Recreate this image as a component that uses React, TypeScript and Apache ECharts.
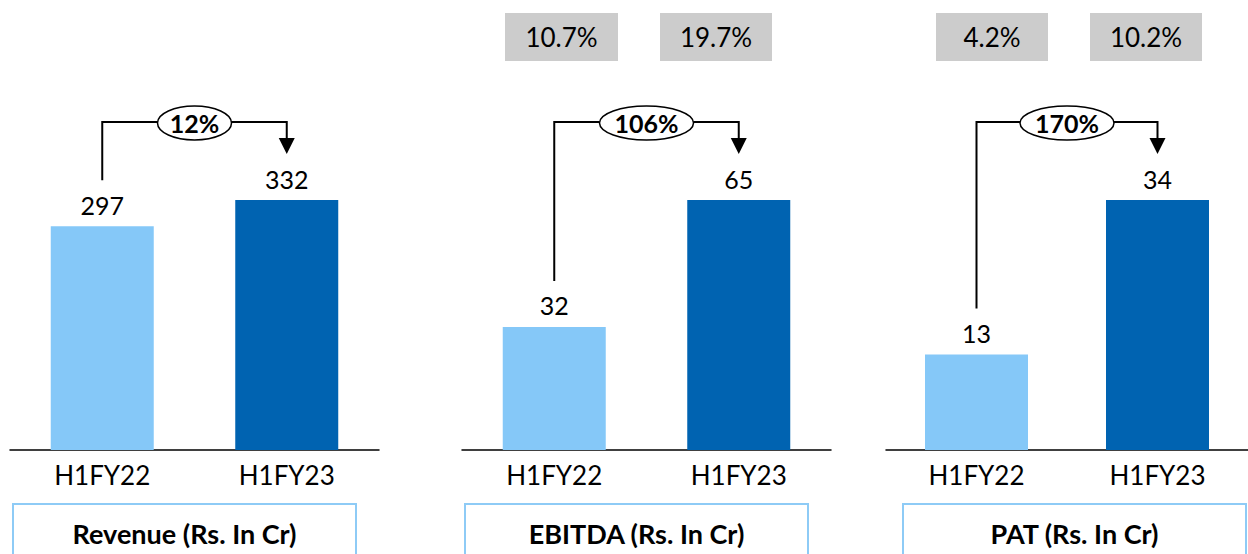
import React, { useEffect, useRef } from "react";
import * as echarts from "echarts";

// ---- data ----
const categories = ["H1FY22", "H1FY23"];
const revenue = [297, 332];
const ebitda = [32, 65];
const pat = [13, 34];
const ebitdaMargin = ["10.7%", "19.7%"];
const patMargin = ["4.2%", "10.2%"];
const growth = ["12%", "106%", "170%"];
const titles = ["Revenue (Rs. In Cr)", "EBITDA (Rs. In Cr)", "PAT (Rs. In Cr)"];

// ---- styles / layout ----
const FONT = "Lato, 'Open Sans', sans-serif";
const LIGHT = "#85C8F8";
const DARK = "#0063B1";
const panelsLayout = [
  { left: 10, box: [13, 356], marginRects: [] as number[][] },
  { left: 462, box: [465, 808], marginRects: [[505, 618], [660, 772]] },
  { left: 886, box: [903, 1246], marginRects: [[936, 1048], [1090, 1202]] },
];
const panelValues = [revenue, ebitda, pat];
const panelMargins: string[][] = [[], ebitdaMargin, patMargin];

export default function App() {
  const ref = useRef<HTMLDivElement>(null);
  useEffect(() => {
    document.body.style.margin = "0";
    const chart = echarts.init(ref.current!, null, { renderer: "svg" });
    const option: any = {
      animation: false,
      grid: panelsLayout.map((p) => ({ left: p.left, width: 369, top: 200, height: 250 })),
      xAxis: panelsLayout.map((_, i) => ({
        type: "category",
        gridIndex: i,
        data: categories,
        axisLine: { lineStyle: { color: "#000", width: 1.5 } },
        axisTick: { show: false },
        axisLabel: { fontSize: 26, color: "#000", fontFamily: FONT, margin: 12 },
      })),
      yAxis: panelsLayout.map((_, i) => ({
        type: "value",
        gridIndex: i,
        min: 0,
        max: Math.max(...panelValues[i]),
        show: false,
        splitLine: { show: false },
      })),
      series: panelsLayout.map((_, i) => ({
        type: "bar",
        xAxisIndex: i,
        yAxisIndex: i,
        barWidth: 103,
        data: panelValues[i].map((v, j) => ({
          value: v,
          itemStyle: { color: j === 0 ? LIGHT : DARK },
        })),
        label: {
          show: true,
          position: "top",
          distance: 9,
          fontSize: 25,
          color: "#000",
          fontFamily: FONT,
        },
      })),
    };
    chart.setOption(option);

    const graphics: any[] = [];
    panelsLayout.forEach((p, i) => {
      const vals = panelValues[i];
      const [x0, y0] = chart.convertToPixel({ gridIndex: i } as any, [0, vals[0]]) as number[];
      const [x1, y1] = chart.convertToPixel({ gridIndex: i } as any, [1, vals[1]]) as number[];
      const hy = Math.min(y0, y1) - 78;
      graphics.push({
        type: "polyline",
        shape: { points: [[x0, y0 - 46], [x0, hy], [x1, hy], [x1, hy + 16]] },
        style: { stroke: "#000", lineWidth: 2, fill: null },
        z: 10,
      });
      graphics.push({
        type: "polygon",
        shape: { points: [[x1 - 8, hy + 16], [x1 + 8, hy + 16], [x1, y1 - 46]] },
        style: { fill: "#000" },
        z: 10,
      });
      const cx = (x0 + x1) / 2;
      const rx = growth[i].length > 3 ? 47 : 37;
      graphics.push({
        type: "ellipse",
        shape: { cx, cy: hy + 1, rx, ry: 17 },
        style: { fill: "#fff", stroke: "#000", lineWidth: 1.5 },
        z: 11,
      });
      graphics.push({
        type: "text",
        x: cx,
        y: hy + 1,
        style: {
          text: growth[i],
          align: "center",
          verticalAlign: "middle",
          font: `bold 25px ${FONT}`,
          fill: "#000",
        },
        z: 12,
      });
      // margin boxes
      p.marginRects.forEach((r, j) => {
        graphics.push({
          type: "rect",
          shape: { x: r[0], y: 13, width: r[1] - r[0], height: 48 },
          style: { fill: "#CCCCCC" },
          z: 5,
        });
        graphics.push({
          type: "text",
          x: (r[0] + r[1]) / 2,
          y: 37,
          style: {
            text: panelMargins[i][j],
            align: "center",
            verticalAlign: "middle",
            font: `26px ${FONT}`,
            fill: "#000",
          },
          z: 6,
        });
      });
      // title box
      graphics.push({
        type: "rect",
        shape: { x: p.box[0], y: 504, width: p.box[1] - p.box[0], height: 70 },
        style: { fill: null, stroke: "#8ECBF6", lineWidth: 2 },
        z: 5,
      });
      graphics.push({
        type: "text",
        x: (p.box[0] + p.box[1]) / 2,
        y: 533,
        style: {
          text: titles[i],
          align: "center",
          verticalAlign: "middle",
          font: `bold 27px ${FONT}`,
          fill: "#000",
        },
        z: 6,
      });
    });
    chart.setOption({ graphic: graphics });
    return () => chart.dispose();
  }, []);
  return <div ref={ref} style={{ width: 1248, height: 554 }} />;
}
